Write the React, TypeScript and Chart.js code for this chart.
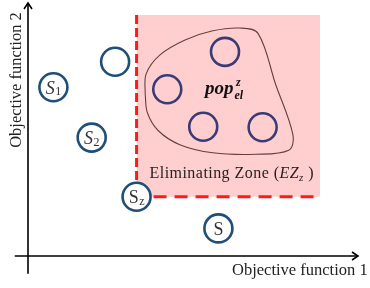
import React, { useEffect, useRef } from "react";
import { Chart, registerables } from "chart.js";

Chart.register(...registerables);

// Solutions outside the eliminating zone (data units: origin 0, axis tips at 10)
const outsideX = [2.64, 0.77, 1.93, 3.29, 5.77];
const outsideY = [7.68, 6.67, 4.68, 2.34, 1.09];
const outsideMain = ["", "S", "S", "S", "S"];
const outsideSub = ["", "1", "2", "z", ""];
const outsideItalic = [false, true, true, false, false];

// Eliminated population inside the zone
const elimX = [5.97, 4.22, 5.31, 7.11];
const elimY = [8.07, 6.59, 5.11, 5.09];

// Eliminating zone bounds [min, max]
const zoneX = [3.29, 8.85];
const zoneY = [2.34, 9.53];

// Outline around the eliminated population (closed)
const blobX = [3.55, 3.58, 4.0, 4.76, 5.6, 6.42, 6.97, 7.5, 8.03, 7.9, 6.9, 5.6, 4.6, 3.95, 3.62, 3.55];
const blobY = [6.4, 7.2, 7.95, 8.54, 8.9, 9.01, 8.8, 6.8, 4.78, 4.18, 4.02, 4.08, 4.4, 4.95, 5.65, 6.4];

// Axis extents
const xAxisRange = [-0.4, 10];
const yAxisRange = [-0.7, 10];

const xAxisTitle = "Objective function 1";
const yAxisTitle = "Objective function 2";
const zoneLabel = ["Eliminating Zone (", "EZ", "z", " )"];
const popLabel = ["pop", "z", "el"];

const SERIF = "'Liberation Serif', 'Times New Roman', serif";
const TEXT = "#222";

const overlay = {
  id: "overlay",
  afterDraw(chart: any) {
    const { ctx, scales } = chart;
    const X = (v: number) => scales.x.getPixelForValue(v);
    const Y = (v: number) => scales.y.getPixelForValue(v);
    ctx.save();

    // axes
    ctx.strokeStyle = "#000";
    ctx.lineWidth = 1.6;
    ctx.beginPath();
    ctx.moveTo(X(xAxisRange[0]), Y(0));
    ctx.lineTo(X(xAxisRange[1]), Y(0));
    ctx.moveTo(X(0), Y(yAxisRange[0]));
    ctx.lineTo(X(0), Y(yAxisRange[1]));
    ctx.stroke();
    // arrow heads
    const tx = X(xAxisRange[1]);
    const ty = Y(0);
    ctx.beginPath();
    ctx.moveTo(tx - 6, ty - 4);
    ctx.lineTo(tx, ty);
    ctx.lineTo(tx - 6, ty + 4);
    const ux = X(0);
    const uy = Y(yAxisRange[1]);
    ctx.moveTo(ux - 4, uy + 6);
    ctx.lineTo(ux, uy);
    ctx.lineTo(ux + 4, uy + 6);
    ctx.stroke();

    // axis titles
    ctx.fillStyle = TEXT;
    ctx.font = `16.5px ${SERIF}`;
    ctx.textBaseline = "alphabetic";
    ctx.textAlign = "left";
    ctx.fillText(xAxisTitle, X(xAxisRange[1]) - 126, Y(0) + 19.5);
    ctx.save();
    ctx.translate(X(0) - 7, Y(yAxisRange[1]) + 77);
    ctx.rotate(-Math.PI / 2);
    ctx.textAlign = "center";
    ctx.fillText(yAxisTitle, 0, 0);
    ctx.restore();

    // labels in circles
    ctx.textAlign = "left";
    for (let i = 0; i < outsideX.length; i++) {
      const main = outsideMain[i];
      if (!main) continue;
      const sub = outsideSub[i];
      const cx = X(outsideX[i]);
      const cy = Y(outsideY[i]);
      const mainFont = `${outsideItalic[i] ? "italic " : ""}18px ${SERIF}`;
      const subFont = `12px ${SERIF}`;
      ctx.font = mainFont;
      const mw = ctx.measureText(main).width;
      ctx.font = subFont;
      const sw = sub ? ctx.measureText(sub).width + 0.5 : 0;
      const sx = cx - (mw + sw) / 2;
      ctx.fillStyle = "#333";
      ctx.font = mainFont;
      ctx.fillText(main, sx, cy + 6.3);
      if (sub) {
        ctx.font = subFont;
        ctx.fillText(sub, sx + mw + 0.5, cy + 8);
      }
    }

    // eliminating zone label
    ctx.save();
    (ctx as any).letterSpacing = "0.45px";
    let lx = X(zoneX[0]) + 13;
    const ly = Y(zoneY[0]) - 18.3;
    ctx.fillStyle = TEXT;
    ctx.font = `16px ${SERIF}`;
    ctx.fillText(zoneLabel[0], lx, ly);
    lx += ctx.measureText(zoneLabel[0]).width;
    ctx.font = `italic 16px ${SERIF}`;
    ctx.fillText(zoneLabel[1], lx, ly);
    lx += ctx.measureText(zoneLabel[1]).width;
    ctx.font = `italic 11px ${SERIF}`;
    ctx.fillText(zoneLabel[2], lx, ly + 3);
    lx += ctx.measureText(zoneLabel[2]).width;
    ctx.font = `16px ${SERIF}`;
    ctx.fillText(zoneLabel[3], lx, ly);
    ctx.restore();

    // pop label
    const px = X(5.36);
    const py = Y(6.39);
    ctx.fillStyle = "#111";
    ctx.font = `bold italic 19px ${SERIF}`;
    ctx.fillText(popLabel[0], px, py);
    const pw = ctx.measureText(popLabel[0]).width;
    ctx.font = `bold italic 12px ${SERIF}`;
    ctx.fillText(popLabel[1], px + pw + 2.5, py - 8);
    ctx.fillText(popLabel[2], px + pw + 1, py + 4.5);

    ctx.restore();
  },
};

export default function App() {
  const ref = useRef<HTMLCanvasElement | null>(null);
  useEffect(() => {
    document.body.style.margin = "0";
    const canvas = ref.current;
    if (!canvas) return;
    const pts = (xs: number[], ys: number[]) => xs.map((x, i) => ({ x, y: ys[i] }));
    const chart = new Chart(canvas, {
      type: "line",
      data: {
        datasets: [
          {
            data: pts(outsideX, outsideY),
            showLine: false,
            pointRadius: 14,
            pointBorderWidth: 2.6,
            pointBorderColor: "#1f4e79",
            pointBackgroundColor: "#ffffff",
          },
          {
            data: pts(elimX, elimY),
            showLine: false,
            pointRadius: 14,
            pointBorderWidth: 2.6,
            pointBorderColor: "#3a3b76",
            pointBackgroundColor: "rgba(0,0,0,0)",
          },
          {
            data: pts(blobX, blobY),
            borderColor: "#6a3d3d",
            borderWidth: 1.1,
            tension: 0.35,
            pointRadius: 0,
            fill: false,
          },
          {
            data: [
              { x: zoneX[0], y: zoneY[1] },
              { x: zoneX[0], y: zoneY[0] },
            ],
            borderColor: "#ff1a1a",
            borderWidth: 3,
            borderDash: [9, 4],
            pointRadius: 0,
            fill: false,
          },
          {
            data: [
              { x: zoneX[0], y: zoneY[0] },
              { x: zoneX[1], y: zoneY[0] },
            ],
            borderColor: "#ff1a1a",
            borderWidth: 3,
            borderDash: [13, 8],
            borderDashOffset: 4,
            pointRadius: 0,
            fill: false,
          },
          {
            data: [
              { x: zoneX[0], y: zoneY[1] },
              { x: zoneX[1], y: zoneY[1] },
            ],
            borderWidth: 0,
            borderColor: "rgba(0,0,0,0)",
            backgroundColor: "#ffcfd0",
            pointRadius: 0,
            fill: "+1",
          },
          {
            data: [
              { x: zoneX[0], y: zoneY[0] },
              { x: zoneX[1], y: zoneY[0] },
            ],
            borderWidth: 0,
            borderColor: "rgba(0,0,0,0)",
            pointRadius: 0,
            fill: false,
          },
        ],
      },
      options: {
        responsive: false,
        devicePixelRatio: 1,
        animation: false,
        events: [],
        layout: { autoPadding: false, padding: { left: 14.8, right: 8.7, top: 3, bottom: 14.3 } },
        scales: {
          x: { type: "linear", min: -0.4, max: 10.1, display: false },
          y: { type: "linear", min: -0.7, max: 10, display: false },
        },
        plugins: {
          legend: { display: false },
          tooltip: { enabled: false },
          title: { display: false },
        },
      },
      plugins: [overlay],
    });
    return () => chart.destroy();
  }, []);
  return (
    <div style={{ position: "absolute", left: 0, top: 0, width: 370, height: 288, background: "#fff" }}>
      <canvas ref={ref} width={370} height={288} />
    </div>
  );
}
